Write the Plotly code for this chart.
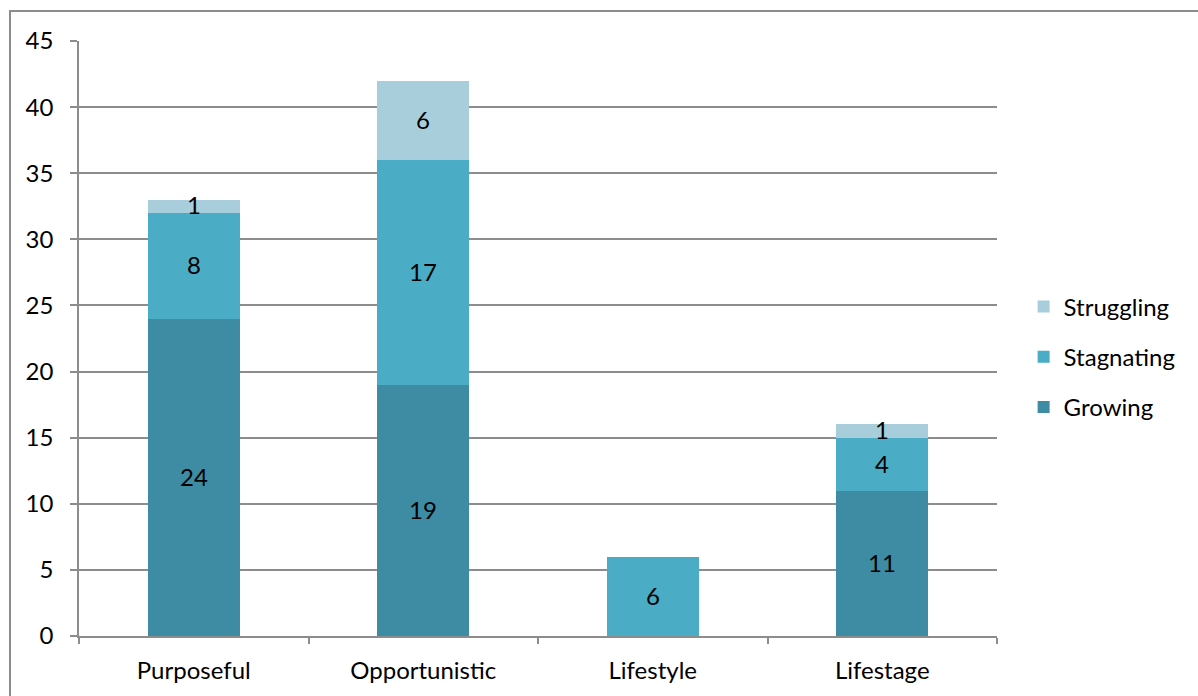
import plotly.graph_objects as go

categories = ["Purposeful", "Opportunistic", "Lifestyle", "Lifestage"]
growing = [24, 19, 0, 11]
stagnating = [8, 17, 6, 4]
struggling = [1, 6, 0, 1]

series = [
    ("Growing", growing, "#3D8CA4"),
    ("Stagnating", stagnating, "#4BACC6"),
    ("Struggling", struggling, "#A8CEDC"),
]

FONT = "Lato, Carlito, Calibri, sans-serif"
FS = 24
W, H = 1198, 696
L, R, T, B = 79, 201, 41, 60

fig = go.Figure()
annotations = []
base = [0] * len(categories)
for i, (name, vals, color) in enumerate(series):
    fig.add_trace(go.Bar(
        x=categories, y=vals, name=name, marker_color=color,
        marker_line_width=0, legendgroup=name, legendrank=len(series) - i,
    ))
    for c, v, b0 in zip(categories, vals, base):
        if v:
            annotations.append(dict(
                x=c, y=b0 + v / 2, text=str(v), showarrow=False,
                font=dict(family=FONT, size=FS, color="#000000"),
                yshift=1 if v > 1 else 2,
            ))
    base = [b0 + v for b0, v in zip(base, vals)]

pw, ph = W - L - R, H - T - B
# outer chart frame
fig.add_shape(
    type="rect", xref="paper", yref="paper",
    x0=(10 - L) / pw, x1=(W + 20 - L) / pw,
    y0=-(H + 20 - T - ph) / ph, y1=(H - B - 11) / ph,
    line=dict(color="#8C8C8C", width=2), fillcolor="rgba(0,0,0,0)", layer="below",
)

fig.update_layout(
    width=W, height=H,
    margin=dict(l=L, r=R, t=T, b=B),
    barmode="stack", bargap=0.6,
    plot_bgcolor="white", paper_bgcolor="white",
    font=dict(family=FONT, size=FS, color="#000000"),
    annotations=annotations,
    showlegend=True,
    legend=dict(
        x=1.029, y=0.469, xanchor="left", yanchor="middle",
        traceorder="grouped", tracegroupgap=16,
        font=dict(family=FONT, size=FS),
        bgcolor="rgba(0,0,0,0)",
    ),
    xaxis=dict(
        showgrid=False, showline=True, linecolor="#8C8C8C", linewidth=1.5,
        ticks="outside", tickson="boundaries", ticklen=6, tickcolor="#8C8C8C",
        tickwidth=1.5, ticklabelstandoff=12,
    ),
    yaxis=dict(
        range=[0, 45], dtick=5, showgrid=True, gridcolor="#8C8C8C", gridwidth=1.5,
        showline=True, linecolor="#8C8C8C", linewidth=1.5,
        ticks="outside", ticklen=7, tickcolor="#8C8C8C", tickwidth=1.5,
        ticklabelstandoff=12, zeroline=False,
    ),
)

fig.write_html("out.html")
